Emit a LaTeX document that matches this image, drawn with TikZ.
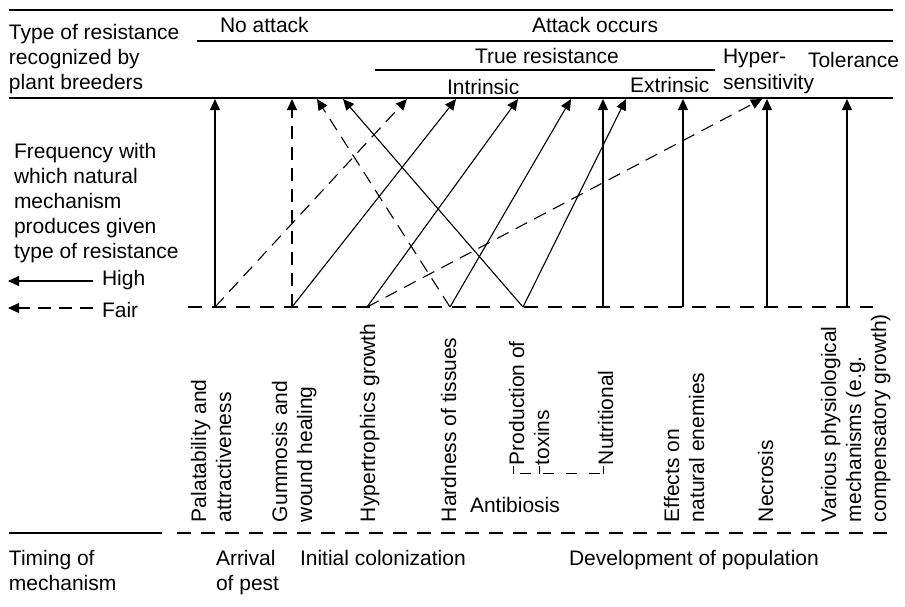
\documentclass[tikz,border=0pt]{standalone}
\usepackage{fontspec}
\setmainfont{Liberation Sans}
\usetikzlibrary{arrows.meta}
\begin{document}
\begin{tikzpicture}[x=1pt,y=-1pt,
  lbl/.style={inner sep=0pt, outer sep=0pt, anchor=base west, font=\fontsize{21}{25}\selectfont},
  vlbl/.style={lbl, rotate=90},
  rule/.style={line width=1.4pt},
  conn/.style={line width=1.1pt, -{Triangle[length=11pt,width=10pt]}},
  dsh/.style={dash pattern=on 13pt off 8pt},
  hdash/.style={line width=1.2pt, dash pattern=on 14pt off 10pt},
]
\useasboundingbox (0,0) rectangle (905,606);
% ---------- header rules ----------
\coordinate (r1a) at (9,10);   \coordinate (r1b) at (893,10);
\coordinate (r2a) at (197,41); \coordinate (r2b) at (893,41);
\coordinate (r3a) at (375,70); \coordinate (r3b) at (715,70);
\coordinate (r4a) at (9,98);   \coordinate (r4b) at (893,98);
\draw[rule] (r1a) -- (r1b);
\draw[rule] (r2a) -- (r2b);
\draw[rule] (r3a) -- (r3b);
\draw[rule] (r4a) -- (r4b);
% ---------- header texts ----------
\node[lbl] (h1) at (9,39) {Type of resistance};
\node[lbl] (h2) at (9,64) {recognized by};
\node[lbl] (h3) at (9,89) {plant breeders};
\node[lbl] (noatt) at (220,32) {No attack};
\node[lbl] (att) at (532,32) {Attack occurs};
\node[lbl] (true) at (475,63) {True resistance};
\node[lbl] (hyp1) at (723,63) {Hyper-};
\node[lbl] (hyp2) at (723,89) {sensitivity};
\node[lbl] (tol) at (808,67) {Tolerance};
\node[lbl] (intr) at (447,94) {Intrinsic};
\node[lbl] (extr) at (630,92) {Extrinsic};
% ---------- left legend ----------
\node[lbl] (f1) at (14,158) {Frequency with};
\node[lbl] (f2) at (14,183) {which natural};
\node[lbl] (f3) at (14,208) {mechanism};
\node[lbl] (f4) at (14,233) {produces given};
\node[lbl] (f5) at (14,258) {type of resistance};
\node[lbl] (high) at (102,285) {High};
\node[lbl] (fair) at (102,317) {Fair};
\coordinate (hs) at (93,281); \coordinate (he) at (8,281);
\coordinate (fs) at (93,308); \coordinate (fe) at (8,308);
\draw[conn] (hs) -- (he);
\draw[conn,dsh] (fs) -- (fe);
% ---------- mechanism baseline ----------
\coordinate (ba) at (188,307); \coordinate (bb) at (873,307);
\draw[hdash] (ba) -- (bb);
% origins
\coordinate (p1) at (215,307);
\coordinate (p2) at (292,307);
\coordinate (p3) at (367,307);
\coordinate (p4) at (450,307);
\coordinate (p5) at (523,307);
\coordinate (p6) at (603,307);
\coordinate (p7) at (683,307);
\coordinate (p8) at (767,307);
\coordinate (p9) at (847,307);
% targets
\coordinate (t1) at (215,99);
\coordinate (t2) at (292,99);
\coordinate (t3) at (317,99);
\coordinate (t4) at (343,99);
\coordinate (t5) at (407,99);
\coordinate (t6) at (456,99);
\coordinate (t7) at (518,99);
\coordinate (t8) at (571,99);
\coordinate (t9) at (603,99);
\coordinate (t10) at (626,99);
\coordinate (t11) at (683,99);
\coordinate (t12) at (762,99);
\coordinate (t13) at (767,99);
\coordinate (t14) at (847,99);
% connectors
\draw[conn] (p1) -- (t1);
\draw[conn,dsh] (p1) -- (t5);
\draw[conn,dsh] (p2) -- (t2);
\draw[conn] (p2) -- (t6);
\draw[conn] (p3) -- (t7);
\draw[conn,dsh] (p3) -- (t12);
\draw[conn,dsh] (p4) -- (t3);
\draw[conn] (p4) -- (t8);
\draw[conn] (p5) -- (t4);
\draw[conn] (p5) -- (t10);
\draw[conn] (p6) -- (t9);
\draw[conn] (p7) -- (t11);
\draw[conn] (p8) -- (t13);
\draw[conn] (p9) -- (t14);
% ---------- vertical mechanism labels ----------
\node[vlbl] (m1a) at (206,522) {Palatability and};
\node[vlbl] (m1b) at (231,522) {attractiveness};
\node[vlbl] (m2a) at (287,522) {Gummosis and};
\node[vlbl] (m2b) at (312,522) {wound healing};
\node[vlbl] (m3) at (375,522) {Hypertrophics growth};
\node[vlbl] (m4) at (456,522) {Hardness of tissues};
\node[vlbl] (m5a) at (524,465) {Production of};
\node[vlbl] (m5b) at (549,465) {toxins};
\node[vlbl] (m6) at (613,465) {Nutritional};
\node[vlbl] (m7a) at (679,522) {Effects on};
\node[vlbl] (m7b) at (704,522) {natural enemies};
\node[vlbl] (m8) at (773,522) {Necrosis};
\node[vlbl] (m9a) at (836,522) {Various physiological};
\node[vlbl] (m9b) at (861,522) {mechanisms (e.g.};
\node[vlbl] (m9c) at (886,522) {compensatory growth)};
% antibiosis bracket
\coordinate (ab1) at (520,473); \coordinate (ab2) at (600,473);
\draw[line width=1pt, dash pattern=on 11pt off 12pt] (ab1) -- (ab2);
\coordinate (k1a) at (513,466); \coordinate (k1b) at (513,474);
\coordinate (k2a) at (539,466); \coordinate (k2b) at (539,474);
\coordinate (k3a) at (603,466); \coordinate (k3b) at (603,474);
\draw[line width=1pt] (k1a) -- (k1b);
\draw[line width=1pt] (k2a) -- (k2b);
\draw[line width=1pt] (k3a) -- (k3b);
\node[lbl] (anti) at (470,512) {Antibiosis};
% ---------- timing ----------
\coordinate (la) at (9,533);   \coordinate (lb) at (162,533);
\coordinate (lc) at (177,533); \coordinate (ld) at (890,533);
\draw[line width=1.2pt] (la) -- (lb);
\draw[hdash] (lc) -- (ld);
\node[lbl] (tm1) at (9,565) {Timing of};
\node[lbl] (tm2) at (9,590) {mechanism};
\node[lbl] (ar1) at (216,565) {Arrival};
\node[lbl] (ar2) at (216,590) {of pest};
\node[lbl] (ic) at (300,565) {Initial colonization};
\node[lbl] (dp) at (569,565) {Development of population};
\end{tikzpicture}
\end{document}
